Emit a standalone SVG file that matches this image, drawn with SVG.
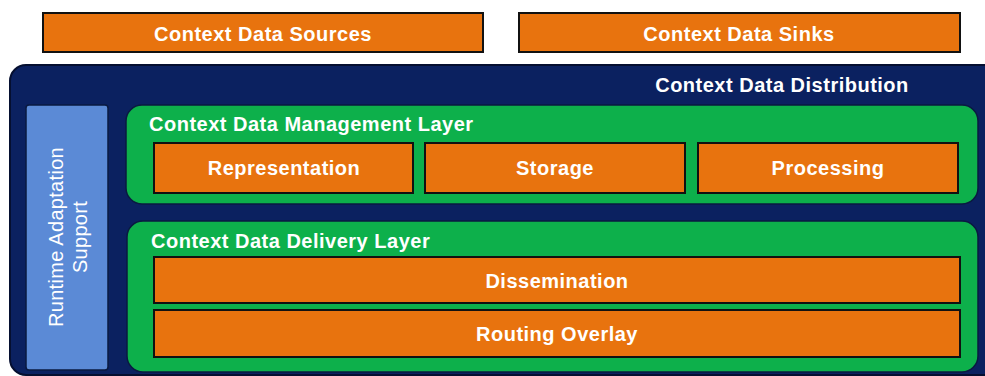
<svg xmlns="http://www.w3.org/2000/svg" width="985" height="376" viewBox="0 0 985 376">
<style>
.box{fill:#E8730E;stroke:#111;stroke-width:2}
.layer{fill:#0DB04B;stroke:#0a1a40;stroke-width:1.5}
.t{font-family:"Liberation Sans",Arial,sans-serif;font-weight:bold;font-size:20px;letter-spacing:0.5px;fill:#fff}
.c{text-anchor:middle}
</style>
<rect width="985" height="376" fill="#fff"/>
<g id="sources"><rect class="box" x="43" y="13" width="440" height="39"/><text class="t c" x="263" y="41">Context Data Sources</text></g>
<g id="sinks"><rect class="box" x="519" y="13" width="441" height="39"/><text class="t c" x="739" y="41">Context Data Sinks</text></g>
<g id="distribution"><rect x="10" y="65" width="990" height="310" rx="16" fill="#0B2160" stroke="#050f30" stroke-width="2"/><text class="t c" x="782" y="92">Context Data Distribution</text></g>
<g id="runtime"><rect x="26" y="105" width="82" height="265" rx="3" fill="#5B8AD6" stroke="#0a1a40" stroke-width="1.5"/><text font-family="Liberation Sans,Arial,sans-serif" font-size="20" letter-spacing="0.3" fill="#fff" text-anchor="middle" transform="translate(67,237) rotate(-90)"><tspan x="0" y="-4">Runtime Adaptation</tspan><tspan x="0" y="20">Support</tspan></text></g>
<g id="management"><rect class="layer" x="126" y="105" width="852" height="99" rx="16"/><text class="t" x="149" y="131">Context Data Management Layer</text></g>
<g id="representation"><rect class="box" x="154" y="143" width="259" height="50"/><text class="t c" x="284" y="175">Representation</text></g>
<g id="storage"><rect class="box" x="425" y="143" width="260" height="50"/><text class="t c" x="555" y="175">Storage</text></g>
<g id="processing"><rect class="box" x="698" y="143" width="260" height="50"/><text class="t c" x="828" y="175">Processing</text></g>
<g id="delivery"><rect class="layer" x="127" y="221" width="851" height="151" rx="16"/><text class="t" x="151" y="248">Context Data Delivery Layer</text></g>
<g id="dissemination"><rect class="box" x="154" y="257" width="806" height="46"/><text class="t c" x="557" y="288">Dissemination</text></g>
<g id="routing"><rect class="box" x="154" y="310" width="806" height="47"/><text class="t c" x="557" y="341">Routing Overlay</text></g>
<g id="connectors"/>
</svg>
